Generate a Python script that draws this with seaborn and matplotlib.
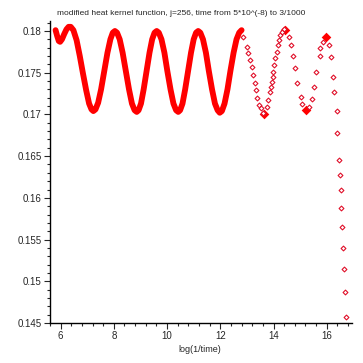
import numpy as np
import pandas as pd
import matplotlib
matplotlib.use("Agg")
import matplotlib.pyplot as plt
from matplotlib.ticker import MultipleLocator
import seaborn as sns

sns.set_style("white")
plt.rcParams['font.family'] = ['Liberation Sans', 'DejaVu Sans']

# dense part of the curve (points overlap into a thick band)
dense_x = [5.81, 5.87, 5.93, 5.98, 6.05, 6.13, 6.22, 6.30, 6.38,
           6.48, 6.60, 6.72, 6.84, 6.96, 7.07, 7.16, 7.23,
           7.31, 7.41, 7.52, 7.64, 7.76, 7.87, 7.96, 8.04,
           8.12, 8.22, 8.33, 8.45, 8.57, 8.68, 8.78, 8.86,
           8.93, 9.02, 9.12, 9.23, 9.34, 9.44, 9.53, 9.61,
           9.69, 9.79, 9.90, 10.01, 10.13, 10.24, 10.34, 10.42,
           10.49, 10.58, 10.68, 10.79, 10.90, 11.00, 11.09, 11.17,
           11.25, 11.35, 11.46, 11.57, 11.69, 11.80, 11.90, 11.98,
           12.06, 12.16, 12.27, 12.38, 12.50, 12.61, 12.71, 12.80]
dense_y = [0.1801, 0.1794, 0.1788, 0.1787, 0.1790, 0.1796, 0.1802, 0.1805, 0.1805,
           0.1801, 0.1789, 0.1770, 0.1749, 0.1729, 0.1713, 0.1706, 0.1704,
           0.1706, 0.1714, 0.1730, 0.1752, 0.1774, 0.1790, 0.1798, 0.1800,
           0.1798, 0.1790, 0.1774, 0.1752, 0.1730, 0.1713, 0.1705, 0.1703,
           0.1705, 0.1713, 0.1730, 0.1752, 0.1774, 0.1790, 0.1798, 0.1800,
           0.1798, 0.1790, 0.1774, 0.1752, 0.1730, 0.1713, 0.1705, 0.1703,
           0.1705, 0.1713, 0.1730, 0.1752, 0.1774, 0.1790, 0.1798, 0.1800,
           0.1798, 0.1790, 0.1774, 0.1752, 0.1730, 0.1713, 0.1705, 0.1702,
           0.1704, 0.1713, 0.1730, 0.1752, 0.1774, 0.1790, 0.1798, 0.1801]

# separate points at small times
sparse_x = [12.865, 12.99, 13.05, 13.12, 13.18, 13.24, 13.30, 13.34, 13.39, 13.47, 13.52, 13.62,
            13.74, 13.80, 13.87, 13.91, 13.94, 13.97, 13.99, 14.03, 14.07, 14.12, 14.16, 14.21,
            14.26, 14.31, 14.41,
            14.59, 14.65, 14.74, 14.82, 14.89, 15.02, 15.06,
            15.35, 15.44, 15.53, 15.61, 15.75, 15.76, 15.85,
            16.10, 16.16, 16.25, 16.29, 16.37, 16.40, 16.47, 16.50, 16.52, 16.54,
            16.59, 16.61, 16.64, 16.70, 16.74]
sparse_y = [0.17932, 0.17812, 0.17733, 0.17652, 0.17572, 0.17472, 0.17373, 0.17293, 0.17193, 0.17113, 0.17073, 0.17013,
            0.17092, 0.17173, 0.17272, 0.17332, 0.17392, 0.17452, 0.17512, 0.17592, 0.17673, 0.17752, 0.17832, 0.17892,
            0.17952, 0.17992, 0.18020,
            0.17924, 0.17832, 0.17700, 0.17553, 0.17373, 0.17205, 0.17125,
            0.17085, 0.17181, 0.17325, 0.17505, 0.17700, 0.17793, 0.17872,
            0.17832, 0.17685, 0.17445, 0.17265, 0.17041, 0.16773, 0.16459, 0.16279, 0.16090, 0.15874,
            0.15650, 0.15404, 0.15144, 0.14871, 0.14577]

# clusters where the points pile up at the turning points
blob_x = [13.65, 14.43, 15.22, 15.97]
blob_y = [0.1701, 0.1801, 0.17053, 0.17932]

title = "modified heat kernel function, j=256, time from 5*10^(-8) to 3/1000"
xlabel = "log(1/time)"

dense = pd.DataFrame({"x": dense_x, "y": dense_y})
sparse = pd.DataFrame({"x": sparse_x, "y": sparse_y})
blobs = pd.DataFrame({"x": blob_x, "y": blob_y})

fig = plt.figure(figsize=(3.63, 3.63), dpi=100)
ax = fig.add_axes([0.1377, 0.1102, 0.832, 0.832])

sns.lineplot(data=dense, x="x", y="y", ax=ax, color="red", lw=4.2,
             sort=False, solid_capstyle="round", solid_joinstyle="round")
sns.scatterplot(data=blobs, x="x", y="y", ax=ax, color="red", marker="D",
                s=24, linewidth=0)
sns.scatterplot(data=sparse, x="x", y="y", ax=ax, marker="D", s=6,
                facecolor="white", edgecolor="#e0102a", linewidth=0.8)

ax.set_xlim(5.6, 16.95)
ax.set_ylim(0.145, 0.1812)
ax.xaxis.set_major_locator(MultipleLocator(2))
ax.xaxis.set_minor_locator(MultipleLocator(0.4))
ax.yaxis.set_major_locator(MultipleLocator(0.005))
ax.yaxis.set_minor_locator(MultipleLocator(0.001))
ax.set_yticks(np.arange(0.145, 0.1801, 0.005))
ax.set_yticklabels(["0.145", "0.15", "0.155", "0.16", "0.165", "0.17", "0.175", "0.18"])

sns.despine(ax=ax)
for s in ["left", "bottom"]:
    ax.spines[s].set_color("black")
    ax.spines[s].set_linewidth(1)
ax.tick_params(which="major", direction="out", length=4, width=0.8, labelsize=7,
               pad=2, left=True, bottom=True)
ax.tick_params(which="minor", direction="out", length=2, width=0.8,
               left=True, bottom=True)
ax.set_xlabel("")
ax.set_ylabel("")

fig.text(0.5, 0.962, title, ha="center", va="center", fontsize=6)
fig.text(0.551, 0.036, xlabel, ha="center", va="center", fontsize=6.5)

fig.savefig("out.png", dpi=100)
